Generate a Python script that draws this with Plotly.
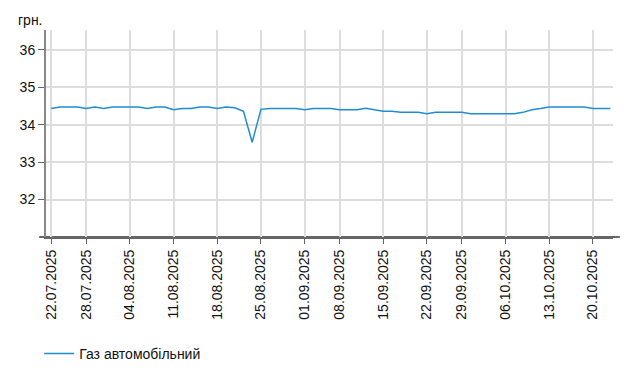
import plotly.graph_objects as go

dates = [
    "22.07.2025", "23.07.2025", "24.07.2025", "25.07.2025",
    "28.07.2025", "29.07.2025", "30.07.2025", "31.07.2025", "01.08.2025",
    "04.08.2025", "05.08.2025", "06.08.2025", "07.08.2025", "08.08.2025",
    "11.08.2025", "12.08.2025", "13.08.2025", "14.08.2025", "15.08.2025",
    "18.08.2025", "19.08.2025", "20.08.2025", "21.08.2025", "22.08.2025",
    "25.08.2025", "26.08.2025", "27.08.2025", "28.08.2025", "29.08.2025",
    "01.09.2025", "02.09.2025", "03.09.2025", "04.09.2025",
    "08.09.2025", "09.09.2025", "10.09.2025", "11.09.2025", "12.09.2025",
    "15.09.2025", "16.09.2025", "17.09.2025", "18.09.2025", "19.09.2025",
    "22.09.2025", "23.09.2025", "24.09.2025", "25.09.2025",
    "29.09.2025", "30.09.2025", "01.10.2025", "02.10.2025", "03.10.2025",
    "06.10.2025", "07.10.2025", "08.10.2025", "09.10.2025", "10.10.2025",
    "13.10.2025", "14.10.2025", "15.10.2025", "16.10.2025", "17.10.2025",
    "20.10.2025", "21.10.2025", "22.10.2025",
]

gas_prices = [
    34.43, 34.47, 34.47, 34.47,
    34.43, 34.47, 34.43, 34.47, 34.47,
    34.47, 34.47, 34.43, 34.47, 34.47,
    34.40, 34.43, 34.43, 34.47, 34.47,
    34.43, 34.47, 34.45, 34.36, 33.53,
    34.41, 34.43, 34.43, 34.43, 34.43,
    34.40, 34.43, 34.43, 34.43,
    34.40, 34.40, 34.40, 34.44, 34.40,
    34.36, 34.36, 34.33, 34.33, 34.33,
    34.29, 34.33, 34.33, 34.33,
    34.33, 34.29, 34.29, 34.29, 34.29,
    34.29, 34.29, 34.33, 34.40, 34.43,
    34.47, 34.47, 34.47, 34.47, 34.47,
    34.43, 34.43, 34.43,
]

tick_labels = [
    "22.07.2025", "28.07.2025", "04.08.2025", "11.08.2025", "18.08.2025",
    "25.08.2025", "01.09.2025", "08.09.2025", "15.09.2025", "22.09.2025",
    "29.09.2025", "06.10.2025", "13.10.2025", "20.10.2025",
]

series_name = "Газ автомобільний"
unit_label = "грн."

FONT = "Arial, 'Liberation Sans', sans-serif"

fig = go.Figure()
fig.add_trace(go.Scatter(
    x=dates, y=gas_prices, mode="lines", name=series_name,
    line=dict(color="#1f8dd6", width=1.5),
))

fig.update_layout(
    width=634, height=392,
    margin=dict(l=46, r=21, t=30, b=155),
    paper_bgcolor="white", plot_bgcolor="white",
    font=dict(family=FONT, size=14, color="#111"),
    showlegend=True,
    legend=dict(orientation="h", x=-0.012, xanchor="left", y=-0.565, yanchor="middle",
                font=dict(size=14, color="#111"), bgcolor="rgba(0,0,0,0)"),
    annotations=[dict(text=unit_label, xref="paper", yref="paper",
                      x=-0.053, y=1.048, xanchor="left", yanchor="middle",
                      showarrow=False, font=dict(size=14, color="#111"))],
    shapes=[dict(type="line", xref="paper", yref="paper",
                 x0=-0.012, x1=1.012, y0=0, y1=0,
                 line=dict(color="#666", width=2), layer="below")],
)

fig.update_xaxes(
    type="category", categoryorder="array", categoryarray=dates,
    range=[-0.6, 64.3],
    tickmode="array", tickvals=tick_labels, ticktext=tick_labels,
    tickangle=-90, ticks="outside", ticklen=5, tickcolor="#666", tickwidth=1,
    showgrid=True, gridcolor="#dddddd", gridwidth=2,
    showline=True, linecolor="#666", linewidth=2,
    tickfont=dict(size=14, color="#111"),
    zeroline=False,
)
fig.update_yaxes(
    range=[31, 36.53],
    tickmode="array", tickvals=[32, 33, 34, 35, 36],
    ticks="outside", ticklen=6, tickcolor="#666", tickwidth=1,
    showgrid=True, gridcolor="#dddddd", gridwidth=2,
    showline=True, linecolor="#888", linewidth=2,
    tickfont=dict(size=14, color="#111"),
    zeroline=False,
)

fig.write_html("out.html")
